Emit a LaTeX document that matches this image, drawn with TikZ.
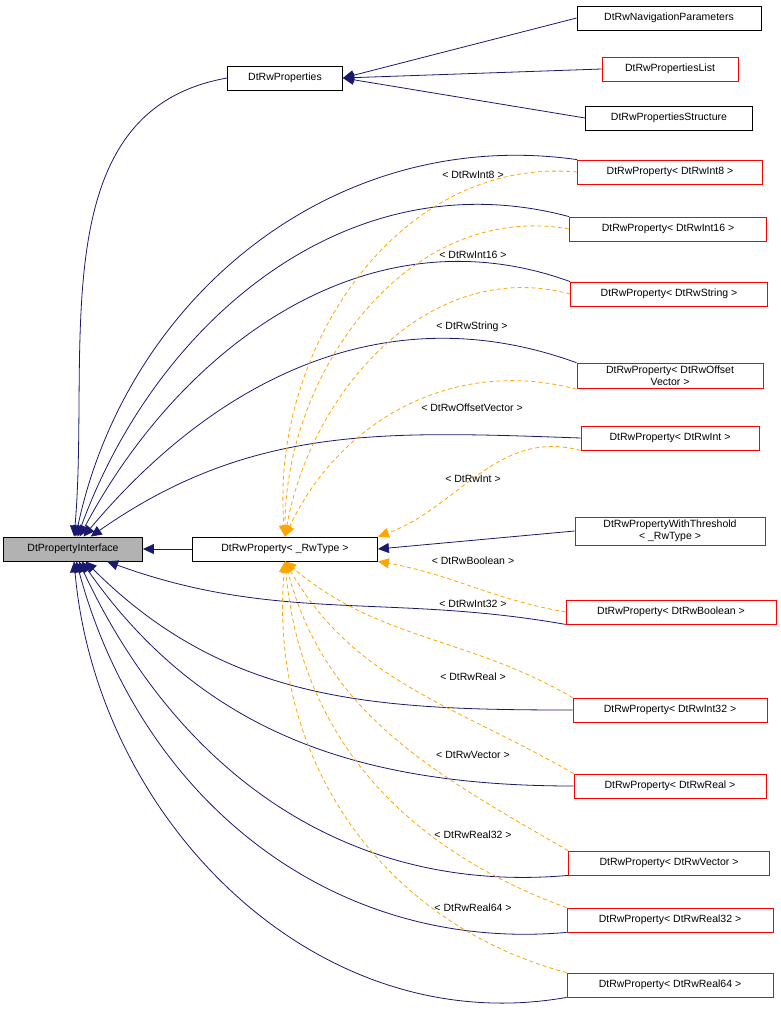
\documentclass[tikz,border=0pt]{standalone}
\usepackage{fontspec}
\setmainfont{Liberation Sans}
\usetikzlibrary{arrows.meta, positioning}
\definecolor{edgeblue}{RGB}{25,25,112}
\definecolor{tmplorange}{RGB}{255,165,0}
\tikzset{
  cls/.style={draw=black, fill=white, inner sep=3pt, minimum height=24pt, font=\fontsize{10.5}{12}\selectfont, align=center, line width=0.8pt},
  clsred/.style={cls, draw=red},
  inh/.style={draw=edgeblue, line width=0.8pt, -{Triangle[length=11pt,width=10pt]}},
  tpl/.style={draw=tmplorange, line width=0.8pt, dash pattern=on 4pt off 3pt, -{Triangle[length=11pt,width=10pt]}},
  lbl/.style={font=\fontsize{10.5}{12}\selectfont}
}
\begin{document}
\begin{tikzpicture}[x=1pt,y=-1pt]
    \useasboundingbox (0,0) rectangle (781,1034);

    \node[cls, fill=gray!60, minimum width=139pt] (iface) at (73,549) {DtPropertyInterface};
    \node[cls, minimum width=115pt] (props) at (285,78) {DtRwProperties};
    \node[cls, minimum width=184pt] (nav) at (669,18) {DtRwNavigationParameters};
    \node[clsred, minimum width=136pt] (plist) at (670,69) {DtRwPropertiesList};
    \node[cls, minimum width=167pt] (pstruct) at (669,118) {DtRwPropertiesStructure};
    \node[cls, minimum width=185pt] (tmpl) at (285,549) {DtRwProperty< \_RwType >};

    \node[clsred, minimum width=185pt] (int8) at (670,172) {DtRwProperty< DtRwInt8 >};
    \node[clsred, minimum width=197pt] (int16) at (668,229) {DtRwProperty< DtRwInt16 >};
    \node[clsred, minimum width=197pt] (str) at (669,294) {DtRwProperty< DtRwString >};
    \node[clsred, minimum width=186pt] (offs) at (670,376) {DtRwProperty< DtRwOffset\\Vector >};
    \node[clsred, minimum width=178pt] (int) at (670,438) {DtRwProperty< DtRwInt >};
    \node[clsred, minimum width=190pt] (thr) at (670,531) {DtRwPropertyWithThreshold\\< \_RwType >};
    \node[clsred, minimum width=210pt] (bool) at (671,612) {DtRwProperty< DtRwBoolean >};
    \node[clsred, minimum width=194pt] (int32) at (670,710) {DtRwProperty< DtRwInt32 >};
    \node[clsred, minimum width=192pt] (real) at (670,786) {DtRwProperty< DtRwReal >};
    \node[clsred, minimum width=201pt] (vec) at (669,863) {DtRwProperty< DtRwVector >};
    \node[clsred, minimum width=206pt] (real32) at (670,920) {DtRwProperty< DtRwReal32 >};
    \node[clsred, minimum width=206pt] (real64) at (670,985) {DtRwProperty< DtRwReal64 >};

    % inheritance into DtRwProperties
    \draw[inh] (nav.west) -- (props.east);
    \draw[inh] (plist.west) -- (props.east);
    \draw[inh] (pstruct.west) -- (props.east);

    % inheritance into DtPropertyInterface
    \draw[inh] (props.west) to[out=190,in=85] (iface);
    \draw[inh] (tmpl) -- (iface);
    \draw[inh] (int8.north west) to[out=172,in=78] (iface);
    \draw[inh] (int16.north west) to[out=165,in=70] (iface);
    \draw[inh] (str.north west) to[out=160,in=62] (iface);
    \draw[inh] (offs.north west) to[out=160,in=50] (iface);
    \draw[inh] (int.west) to[out=178,in=35] (iface);
    \draw[inh] (bool.south west) to[out=170,in=-20] (iface);
    \draw[inh] (int32.west) to[out=180,in=-45] (iface);
    \draw[inh] (real.west) to[out=180,in=-55] (iface);
    \draw[inh] (vec.south west) to[out=185,in=-65] (iface);
    \draw[inh] (real32.south west) to[out=185,in=-75] (iface);
    \draw[inh] (real64.south west) to[out=190,in=-85] (iface);

    \draw[inh] (thr.west) -- (tmpl.east);

    % template instances
    \draw[tpl] (int8.west) to[out=175,in=95] (tmpl.north);
    \draw[tpl] (int16.west) to[out=170,in=90] (tmpl.north);
    \draw[tpl] (str.west) to[out=165,in=80] (tmpl.north);
    \draw[tpl] (offs.south west) to[out=165,in=65] (tmpl.north);
    \draw[tpl] (int.south west) to[out=165,in=20] (tmpl.north east);
    \draw[tpl] (bool.west) to[out=170,in=-10] (tmpl.south east);
    \draw[tpl] (int32.north west) to[out=150,in=-40] (tmpl.south);
    \draw[tpl] (real.north west) to[out=150,in=-60] (tmpl.south);
    \draw[tpl] (vec.north west) to[out=150,in=-75] (tmpl.south);
    \draw[tpl] (real32.north west) to[out=160,in=-85] (tmpl.south);
    \draw[tpl] (real64.north west) to[out=165,in=-95] (tmpl.south);

    \node[lbl] (l8) at (473,175) {< DtRwInt8 >};
    \node[lbl] (l16) at (473,255) {< DtRwInt16 >};
    \node[lbl] (lstr) at (472,327) {< DtRwString >};
    \node[lbl] (loff) at (472,408) {< DtRwOffsetVector >};
    \node[lbl] (lint) at (473,479) {< DtRwInt >};
    \node[lbl] (lbool) at (473,561) {< DtRwBoolean >};
    \node[lbl] (l32) at (473,604) {< DtRwInt32 >};
    \node[lbl] (lreal) at (473,677) {< DtRwReal >};
    \node[lbl] (lvec) at (473,755) {< DtRwVector >};
    \node[lbl] (lr32) at (473,835) {< DtRwReal32 >};
    \node[lbl] (lr64) at (473,908) {< DtRwReal64 >};
\end{tikzpicture}
\end{document}
